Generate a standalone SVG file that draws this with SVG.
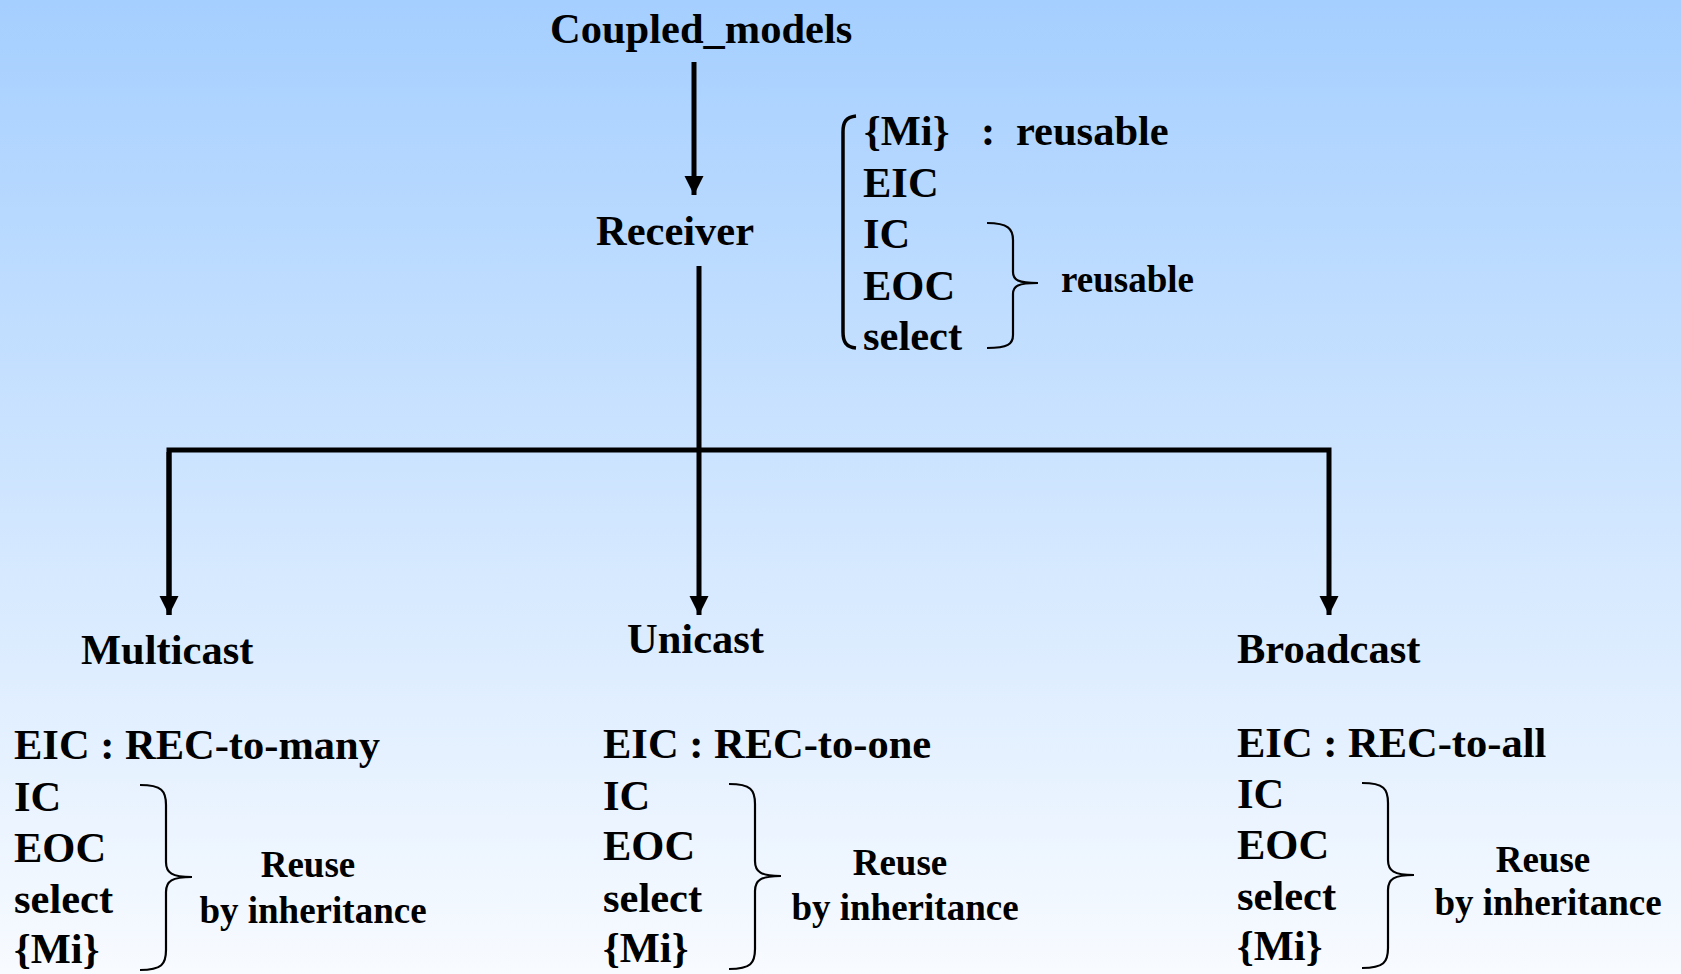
<svg xmlns="http://www.w3.org/2000/svg" width="1681" height="974" viewBox="0 0 1681 974">
<defs>
<linearGradient id="bg" x1="0" y1="0" x2="0" y2="1">
<stop offset="0" stop-color="#a5cfff"/>
<stop offset="1" stop-color="#f8fbff"/>
</linearGradient>
<marker id="arr" markerUnits="userSpaceOnUse" markerWidth="22" markerHeight="22" viewBox="0 0 22 22" refX="19" refY="11" orient="auto">
<path d="M0,1.5 L19,11 L0,20.5 Z" fill="#000"/>
</marker>
<path id="brace" d="M0,0 C22,0 26,6 26,20 L26,77 C26,88 32,92 52,92 C32,92 26,96 26,107 L26,165 C26,179 22,185 0,185" fill="none" stroke="#000" stroke-width="2.2"/>
</defs>
<style>
.t{font-size:42.5px}
.s{font-size:37px}
.m{text-anchor:middle}
.ln{fill:none;stroke:#000;stroke-width:5}
</style>
<rect x="0" y="0" width="1681" height="974" fill="url(#bg)"/>
<g id="connectors">
<line class="ln" x1="694" y1="62" x2="694" y2="195" marker-end="url(#arr)"/>
<line class="ln" x1="699" y1="266" x2="699" y2="615" marker-end="url(#arr)"/>
<polyline class="ln" points="169,615 169,450 1329,450 1329,615" stroke-linejoin="miter" marker-end="url(#arr)"/>
<line class="ln" x1="169" y1="452" x2="169" y2="615" marker-end="url(#arr)"/>
</g>
<g font-family="'Liberation Serif', 'DejaVu Serif', serif" font-weight="bold" fill="#000">
<g id="coupled_models">
<text class="t" x="550" y="43">Coupled_models</text>
</g>
<g id="receiver">
<text class="t" x="596" y="245">Receiver</text>
<path d="M856,116 C846,117 843,122 843,132 L843,332 C843,342 846,347 856,348" fill="none" stroke="#000" stroke-width="3.5"/>
<text class="t" x="864" y="145">{Mi}</text>
<text class="t" x="981" y="145">:</text>
<text class="t" x="1016" y="145">reusable</text>
<text class="t" x="863" y="197">EIC</text>
<text class="t" x="863" y="248">IC</text>
<text class="t" x="863" y="300">EOC</text>
<text class="t" x="863" y="350">select</text>
<path d="M987,223 C1008,223 1013,229 1013,240 L1013,272 C1013,280 1018,283 1038,283 C1018,283 1013,286 1013,294 L1013,335 C1013,344 1008,348 987,348" fill="none" stroke="#000" stroke-width="2.2"/>
<text class="s" x="1061" y="292">reusable</text>
</g>
<g id="multicast">
<text class="t" x="81" y="664">Multicast</text>
<text class="t" x="14" y="759">EIC : REC-to-many</text>
<text class="t" x="14" y="811">IC</text>
<text class="t" x="14" y="862">EOC</text>
<text class="t" x="14" y="913">select</text>
<text class="t" x="14" y="963">{Mi}</text>
<use href="#brace" x="140" y="785"/>
<text class="s m" x="308" y="877">Reuse</text>
<text class="s m" x="313" y="923">by inheritance</text>
</g>
<g id="unicast">
<text class="t" x="627" y="653">Unicast</text>
<text class="t" x="603" y="758">EIC : REC-to-one</text>
<text class="t" x="603" y="810">IC</text>
<text class="t" x="603" y="860">EOC</text>
<text class="t" x="603" y="912">select</text>
<text class="t" x="603" y="962">{Mi}</text>
<use href="#brace" x="729" y="784"/>
<text class="s m" x="900" y="875">Reuse</text>
<text class="s m" x="905" y="920">by inheritance</text>
</g>
<g id="broadcast">
<text class="t" x="1237" y="663">Broadcast</text>
<text class="t" x="1237" y="757">EIC : REC-to-all</text>
<text class="t" x="1237" y="808">IC</text>
<text class="t" x="1237" y="859">EOC</text>
<text class="t" x="1237" y="910">select</text>
<text class="t" x="1237" y="960">{Mi}</text>
<use href="#brace" x="1362" y="783"/>
<text class="s m" x="1543" y="872">Reuse</text>
<text class="s m" x="1548" y="915">by inheritance</text>
</g>
</g>
</svg>
